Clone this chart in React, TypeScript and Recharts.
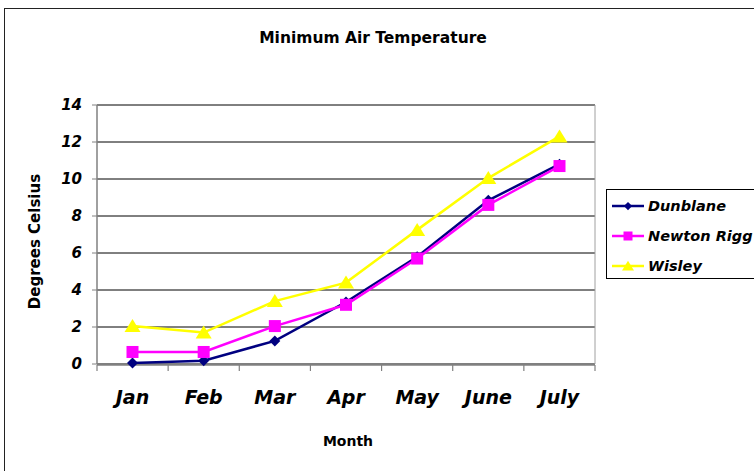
import React from 'react';
import { LineChart, Line, XAxis, YAxis, CartesianGrid, Legend } from 'recharts';

const months = ['Jan', 'Feb', 'Mar', 'Apr', 'May', 'June', 'July'];
const dunblane = [0.05, 0.18, 1.25, 3.35, 5.8, 8.85, 10.8];
const newtonRigg = [0.65, 0.65, 2.05, 3.2, 5.7, 8.6, 10.7];
const wisley = [2.05, 1.7, 3.4, 4.4, 7.25, 10.05, 12.3];
const yTicks = [0, 2, 4, 6, 8, 10, 12, 14];
// boundaries between month categories, for the little tick marks under the axis
const edgeTicks = [0, 1, 2, 3, 4, 5, 6, 7];

const data = months.map((month, i) => ({
    month,
    slot: i + 0.5,
    dunblane: dunblane[i],
    newtonRigg: newtonRigg[i],
    wisley: wisley[i],
}));

const font = '"DejaVu Sans", sans-serif';
const NAVY = '#000080';
const PINK = '#FF00FF';
const YELLOW = '#FFFF00';
const AXIS = '#808080';

const Marker = ({ kind, cx, cy, color, s = 1 }) => {
    if (kind === 'diamond') {
        const r = 5.5 * s;
        return <polygon points={`${cx},${cy - r} ${cx + r},${cy} ${cx},${cy + r} ${cx - r},${cy}`} fill={color} />;
    }
    if (kind === 'square') {
        const h = 6 * s;
        return <rect x={cx - h} y={cy - h} width={h * 2} height={h * 2} fill={color} />;
    }
    const w = 8 * s;
    return <polygon points={`${cx},${cy - 7 * s} ${cx + w},${cy + 6 * s} ${cx - w},${cy + 6 * s}`} fill={color} />;
};

const markers = { dunblane: 'diamond', newtonRigg: 'square', wisley: 'triangle' };

const dotFor = (kind, color) => (props) => (
    <Marker key={`${kind}-${props.index}`} kind={kind} cx={props.cx} cy={props.cy} color={color} />
);

const renderLegend = ({ payload }) => (
    <div
        style={{
            border: '1px solid #000',
            background: '#fff',
            width: 200,
            height: 90,
            boxSizing: 'border-box',
            paddingTop: 1,
            fontFamily: font,
            fontWeight: 'bold',
            fontStyle: 'italic',
            fontSize: 14.5,
            color: '#000',
        }}
    >
        {payload.map((entry) => (
            <div key={entry.value} style={{ display: 'flex', alignItems: 'center', height: 30, paddingLeft: 5 }}>
                <svg width={32} height={16}>
                    <line x1={0} x2={32} y1={8} y2={8} stroke={entry.color} strokeWidth={2.5} />
                    <Marker kind={markers[entry.dataKey]} cx={16} cy={8} color={entry.color} s={0.75} />
                </svg>
                <span style={{ marginLeft: 4, whiteSpace: 'nowrap' }}>{entry.value}</span>
            </div>
        ))}
    </div>
);

const App = () => {
    return (
        <div style={{ position: 'absolute', left: 0, top: 0, width: 754, height: 471, overflow: 'hidden', background: '#fff' }}>
            <div
                style={{
                    position: 'absolute',
                    left: 4,
                    top: 8,
                    width: 800,
                    height: 500,
                    border: '1.5px solid #222',
                }}
            />
            <div
                style={{
                    position: 'absolute',
                    left: 0,
                    width: 746,
                    top: 31,
                    textAlign: 'center',
                    fontFamily: font,
                    fontWeight: 'bold',
                    fontSize: 15.5,
                    lineHeight: 1,
                }}
            >
                Minimum Air Temperature
            </div>
            <div
                style={{
                    position: 'absolute',
                    left: 34.5 - 100,
                    top: 241 - 7.5,
                    width: 200,
                    height: 15,
                    textAlign: 'center',
                    fontFamily: font,
                    fontWeight: 'bold',
                    fontSize: 15,
                    lineHeight: 1,
                    transform: 'rotate(-90deg)',
                    whiteSpace: 'nowrap',
                }}
            >
                Degrees Celsius
            </div>
            <div
                style={{
                    position: 'absolute',
                    left: 348 - 60,
                    width: 120,
                    top: 434,
                    textAlign: 'center',
                    fontFamily: font,
                    fontWeight: 'bold',
                    fontSize: 14,
                    lineHeight: 1,
                }}
            >
                Month
            </div>
            <div style={{ position: 'absolute', left: 0, top: 0 }}>
                <LineChart
                    width={754}
                    height={471}
                    data={data}
                    margin={{ top: 105, right: 158, bottom: 105, left: 96 }}
                >
                    <CartesianGrid horizontal vertical={false} stroke="#000" strokeWidth={1} />
                    <XAxis
                        xAxisId="edges"
                        type="number"
                        dataKey="slot"
                        domain={[0, months.length]}
                        ticks={edgeTicks}
                        allowDataOverflow
                        tickFormatter={() => ''}
                        tick={{ fontSize: 1 }}
                        height={1}
                        tickSize={6}
                        axisLine={{ stroke: AXIS, strokeWidth: 1.5 }}
                        tickLine={{ stroke: AXIS, strokeWidth: 1.2 }}
                    />
                    <XAxis
                        xAxisId="cat"
                        dataKey="month"
                        interval={0}
                        height={1}
                        padding={{ left: 35.5, right: 35.5 }}
                        axisLine={false}
                        tickLine={false}
                        tickSize={6}
                        tickMargin={21}
                        tick={{ fontFamily: font, fontWeight: 'bold', fontStyle: 'italic', fontSize: 19, fill: '#000' }}
                    />
                    <YAxis
                        domain={[0, 14]}
                        ticks={yTicks}
                        interval={0}
                        width={1}
                        tickSize={5}
                        tickMargin={10}
                        axisLine={{ stroke: AXIS, strokeWidth: 1.5 }}
                        tickLine={{ stroke: AXIS }}
                        tick={{ fontFamily: font, fontWeight: 'bold', fontStyle: 'italic', fontSize: 15, fill: '#000' }}
                    />
                    <YAxis
                        yAxisId="r"
                        orientation="right"
                        domain={[0, 14]}
                        width={1}
                        tick={false}
                        tickLine={false}
                        axisLine={{ stroke: '#a0a0a0' }}
                    />
                    <Line
                        xAxisId="cat"
                        dataKey="dunblane"
                        name="Dunblane"
                        stroke={NAVY}
                        strokeWidth={2.5}
                        dot={dotFor('diamond', NAVY)}
                        activeDot={false}
                        isAnimationActive={false}
                    />
                    <Line
                        xAxisId="cat"
                        dataKey="newtonRigg"
                        name="Newton Rigg"
                        stroke={PINK}
                        strokeWidth={2.5}
                        dot={dotFor('square', PINK)}
                        activeDot={false}
                        isAnimationActive={false}
                    />
                    <Line
                        xAxisId="cat"
                        dataKey="wisley"
                        name="Wisley"
                        stroke={YELLOW}
                        strokeWidth={2.5}
                        dot={dotFor('triangle', YELLOW)}
                        activeDot={false}
                        isAnimationActive={false}
                    />
                    <Legend
                        layout="vertical"
                        align="center"
                        verticalAlign="middle"
                        content={renderLegend}
                        wrapperStyle={{ position: 'absolute', left: 606, top: 189, width: 200, height: 90 }}
                    />
                </LineChart>
            </div>
        </div>
    );
};

export default App;
